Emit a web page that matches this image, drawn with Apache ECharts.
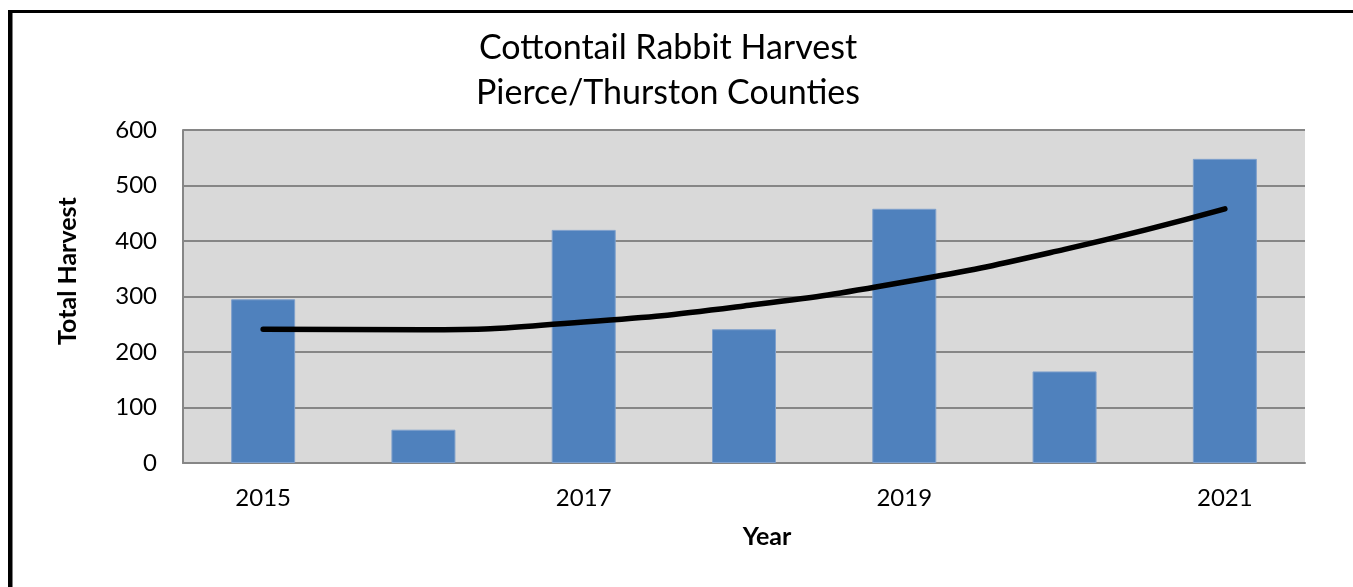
<!DOCTYPE html>
<html>
<head>
<meta charset="utf-8">
<script src="https://cdn.jsdelivr.net/npm/echarts@6/dist/echarts.min.js"></script>
<style>
  html, body { margin: 0; padding: 0; background: #ffffff; }
  #chart { width: 1353px; height: 587px; }
</style>
</head>
<body>
<div id="chart"></div>
<script>
// Harvest totals by season
const years = ['2015', '2016', '2017', '2018', '2019', '2020', '2021'];
const harvest = [295, 60, 420, 241, 458, 165, 548];
// Polynomial trend line values at each year
const trend = [241, 240, 254, 283, 326, 385, 458];
const yTicks = [0, 100, 200, 300, 400, 500, 600];

const FONT = 'Lato, "Noto Sans", sans-serif';

const chart = echarts.init(document.getElementById('chart'), null, { renderer: 'canvas' });

chart.setOption({
  animation: false,
  backgroundColor: '#ffffff',
  title: {
    text: 'Cottontail Rabbit Harvest\nPierce/Thurston Counties',
    left: 663,
    top: 21,
    padding: 5,
    textAlign: 'center',
    textStyle: {
      fontFamily: FONT,
      fontSize: 34,
      fontWeight: 'normal',
      color: '#000000',
      lineHeight: 45
    }
  },
  grid: {
    left: 183,
    top: 130,
    right: 48,
    bottom: 124,
    show: true,
    backgroundColor: '#d9d9d9',
    borderWidth: 0
  },
  xAxis: {
    type: 'category',
    data: years,
    axisLine: { show: true, lineStyle: { color: '#868686', width: 2 } },
    axisTick: { show: false },
    axisLabel: {
      interval: 1,
      margin: 23,
      fontFamily: FONT,
      fontSize: 24,
      color: '#000000'
    }
  },
  yAxis: {
    type: 'value',
    min: yTicks[0],
    max: yTicks[yTicks.length - 1],
    interval: 100,
    axisLine: { show: true, lineStyle: { color: '#868686', width: 2 } },
    axisTick: { show: false },
    axisLabel: {
      margin: 26,
      fontFamily: FONT,
      fontSize: 24,
      color: '#000000'
    },
    splitLine: { show: true, lineStyle: { color: '#868686', width: 2 } }
  },
  series: [
    {
      name: 'Harvest',
      type: 'bar',
      data: harvest,
      barWidth: 64,
      itemStyle: {
        color: '#4f81bd',
        borderColor: '#7fa0cc',
        borderWidth: 1
      },
      z: 2
    },
    {
      name: 'Trend',
      type: 'line',
      data: trend,
      smooth: true,
      symbol: 'none',
      lineStyle: { color: '#000000', width: 5.5, cap: 'round' },
      z: 3
    }
  ],
  graphic: [
    // Page frame: thick left and top rules
    { type: 'rect', shape: { x: 8, y: 10, width: 4.5, height: 577 }, style: { fill: '#000000' }, silent: true },
    { type: 'rect', shape: { x: 8, y: 10, width: 1345, height: 3 }, style: { fill: '#000000' }, silent: true },
    // Axis titles
    {
      type: 'text',
      x: 68, y: 271,
      rotation: Math.PI / 2,
      style: {
        text: 'Total Harvest',
        fontFamily: FONT, fontSize: 25, fontWeight: 'bold', fill: '#000000',
        align: 'center', verticalAlign: 'middle'
      }
    },
    {
      type: 'text',
      x: 767, y: 537,
      style: {
        text: 'Year',
        fontFamily: FONT, fontSize: 25, fontWeight: 'bold', fill: '#000000',
        align: 'center', verticalAlign: 'middle'
      }
    }
  ]
});
</script>
</body>
</html>
